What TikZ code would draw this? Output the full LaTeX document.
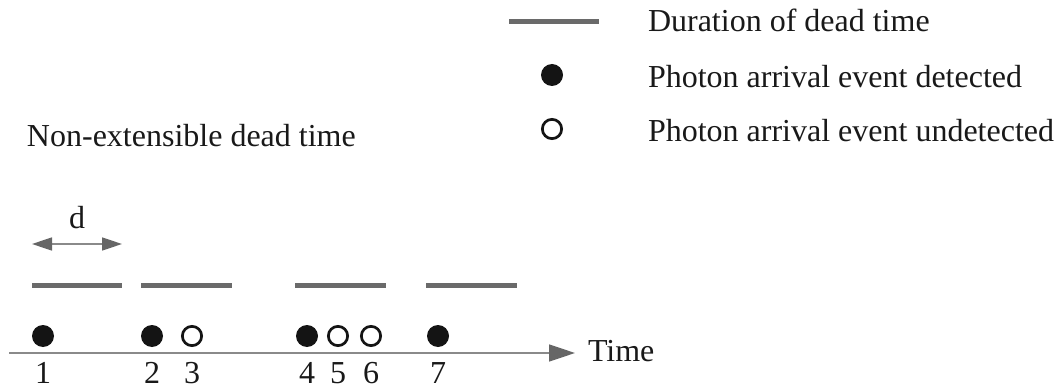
\documentclass[tikz,border=0pt]{standalone}
\usepackage{fontspec}
\setmainfont{Liberation Serif}
\usetikzlibrary{arrows.meta}
\definecolor{bargray}{HTML}{6A6A6A}
\definecolor{axisgray}{HTML}{8A8A8A}
\definecolor{tipgray}{HTML}{666666}
\tikzset{
  txt/.style={inner sep=0pt, outer sep=0pt, font=\fontsize{32}{38}\selectfont, text=black!90},
  fdot/.style={circle, fill=black!92, inner sep=0pt, minimum size=22pt},
  odot/.style={circle, draw=black!92, line width=2.7pt, inner sep=0pt, minimum size=19.3pt},
  deadbar/.style={draw=bargray, line width=5pt},
  axisline/.style={draw=axisgray, line width=1.6pt, -{Triangle[length=26pt,width=17pt,color=tipgray]}},
  darrow/.style={draw=axisgray, line width=1.6pt, {Triangle[length=20pt,width=13pt,color=tipgray]}-{Triangle[length=20pt,width=13pt,color=tipgray]}}
}
\begin{document}
\begin{tikzpicture}[x=1pt,y=-1pt]
\useasboundingbox (0,0) rectangle (1060,390);
% legend
\coordinate (lb1) at (509,22);
\coordinate (lb2) at (599,22);
\draw[deadbar] (lb1) -- (lb2);
\node[fdot] (lfd) at (552,75) {};
\node[odot] (lod) at (552,129) {};
\node[txt, anchor=base west] (l1) at (648,32) {Duration of dead time};
\node[txt, anchor=base west] (l2) at (648,88) {Photon arrival event detected};
\node[txt, anchor=base west] (l3) at (648,142) {Photon arrival event undetected};
% title
\node[txt, anchor=base west] (title) at (27,147) {Non-extensible dead time};
% d arrow
\coordinate (d1) at (32,244);
\coordinate (d2) at (122,244);
\draw[darrow] (d1) -- (d2);
\node[txt, anchor=base] (dl) at (77,229) {d};
% dead time bars
\coordinate (b1a) at (32,285);  \coordinate (b1b) at (122,285);
\coordinate (b2a) at (141,285); \coordinate (b2b) at (232,285);
\coordinate (b3a) at (295,285); \coordinate (b3b) at (386,285);
\coordinate (b4a) at (426,285); \coordinate (b4b) at (517,285);
\draw[deadbar] (b1a) -- (b1b);
\draw[deadbar] (b2a) -- (b2b);
\draw[deadbar] (b3a) -- (b3b);
\draw[deadbar] (b4a) -- (b4b);
% axis
\coordinate (ax0) at (9,353);
\coordinate (ax1) at (575,353);
\draw[axisline] (ax0) -- (ax1);
\node[txt, anchor=base west] (time) at (588,361) {Time};
% events
\node[fdot] (e1) at (43,336) {};
\node[fdot] (e2) at (152,336) {};
\node[odot] (e3) at (192,336) {};
\node[fdot] (e4) at (307,336) {};
\node[odot] (e5) at (338,336) {};
\node[odot] (e6) at (371,336) {};
\node[fdot] (e7) at (438,336) {};
\foreach \i/\x in {1/43,2/152,3/192,4/307,5/338,6/371,7/438}
  \node[txt, anchor=base] (n\i) at (\x,383) {\i};
\end{tikzpicture}
\end{document}
